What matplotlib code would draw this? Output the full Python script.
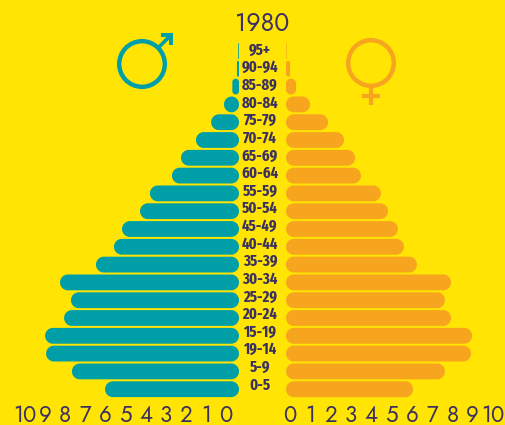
"""1980 population pyramid on yellow background."""
import matplotlib
matplotlib.use("Agg")
import matplotlib.pyplot as plt
from matplotlib.patches import Circle, PathPatch, Polygon
from matplotlib.path import Path

ages = ["95+", "90-94", "85-89", "80-84", "75-79", "70-74", "65-69", "60-64", "55-59", "50-54",
        "45-49", "40-44", "35-39", "30-34", "25-29", "20-24", "15-19", "19-14", "5-9", "0-5"]
male = [0.04, 0.1, 0.33, 0.74, 1.38, 2.13, 2.87, 3.32, 4.41, 4.9,
        5.79, 6.19, 7.08, 8.86, 8.32, 8.66, 9.6, 9.55, 8.27, 6.63]
female = [0.03, 0.2, 0.5, 1.19, 2.08, 2.87, 3.42, 3.71, 4.7, 5.05,
          5.54, 5.84, 6.48, 8.17, 7.87, 8.17, 9.21, 9.16, 7.87, 6.29]
ticks = list(range(0, 11))
year = "1980"

BG = "#ffe404"
TEAL = "#009fa8"
ORANGE = "#f7a51e"
INK = "#3b3160"
W, H = 506, 425
PX_X = 20.2
PX_Y = 17.8
BAR_PX = 15.8
KAPPA = 0.45  # share of the radius left between control point and corner

fig = plt.figure(figsize=(W / 100, H / 100), dpi=100, facecolor=BG)


def side_axes(x0, x1, xlim):
    ax = fig.add_axes([x0 / W, 0, (x1 - x0) / W, 1])
    ax.set_xlim(*xlim)
    # y index 0 sits at pixel 51, one step per age group
    ax.set_ylim((H - 51) / PX_Y, -51 / PX_Y)
    ax.axis("off")
    return ax


def round_bar(v, y, color):
    r = min(BAR_PX / 2 - 0.2, v * PX_X / 2)
    rx, ry = r / PX_X, r / PX_Y
    kx, ky = rx * KAPPA, ry * KAPPA
    t, b = y - BAR_PX / 2 / PX_Y, y + BAR_PX / 2 / PX_Y
    verts = [(rx, t), (v - rx, t), (v - kx, t), (v, t + ky), (v, t + ry),
             (v, b - ry), (v, b - ky), (v - kx, b), (v - rx, b),
             (rx, b), (kx, b), (0, b - ky), (0, b - ry),
             (0, t + ry), (0, t + ky), (kx, t), (rx, t), (rx, t)]
    codes = [Path.MOVETO, Path.LINETO, Path.CURVE4, Path.CURVE4, Path.CURVE4,
             Path.LINETO, Path.CURVE4, Path.CURVE4, Path.CURVE4,
             Path.LINETO, Path.CURVE4, Path.CURVE4, Path.CURVE4,
             Path.LINETO, Path.CURVE4, Path.CURVE4, Path.CURVE4, Path.CLOSEPOLY]
    return PathPatch(Path(verts, codes), fc=color, ec="none")


def draw_bars(ax, values, color):
    for i, v in enumerate(values):
        ax.add_patch(round_bar(v, i, color))


left = side_axes(0, 239, (239 / PX_X, 0))
right = side_axes(286, W, (0, (W - 286) / PX_X))
draw_bars(left, male, TEAL)
draw_bars(right, female, ORANGE)

# overlay in pixels for the labels and the gender symbols
pix = fig.add_axes([0, 0, 1, 1])
pix.set_xlim(0, W)
pix.set_ylim(H, 0)
pix.axis("off")
pix.patch.set_alpha(0)

NUM_FONT = ["Jost", "Lato", "DejaVu Sans"]
tick_font = dict(family=NUM_FONT, fontsize=16, color=INK, ha="center", va="center")
for t in ticks:
    pix.text(226 - t * 20.1, 415, str(t), **tick_font)
    pix.text(290 + t * 20.3, 415, str(t), **tick_font)

for i, a in enumerate(ages):
    pix.text(260, 50 + i * 17.63, a,
             family=["Fira Sans Extra Condensed", "Fira Sans Condensed", "Asap Condensed", "Liberation Sans", "DejaVu Sans"],
             fontweight="bold", fontsize=11.5, color=INK, ha="center", va="center")

pix.text(262, 24, year, family=NUM_FONT, fontsize=18, color=INK, ha="center", va="center")

# male symbol
pix.add_patch(Circle((142, 64), 22.8, fc="none", ec=TEAL, lw=3.2))
pix.plot([158, 169], [48, 37], color=TEAL, lw=2.6, solid_capstyle="butt")
pix.add_patch(Polygon([(161, 33), (173, 33), (173, 45), (169, 45), (169, 37), (161, 37)], fc=TEAL, ec="none"))

# female symbol
pix.add_patch(Circle((371, 63), 22.8, fc="none", ec=ORANGE, lw=3.2))
pix.plot([371, 371], [87, 105], color=ORANGE, lw=3, solid_capstyle="butt")
pix.plot([362, 380], [96, 96], color=ORANGE, lw=3, solid_capstyle="butt")

fig.savefig("out.png", dpi=100, facecolor=BG)
